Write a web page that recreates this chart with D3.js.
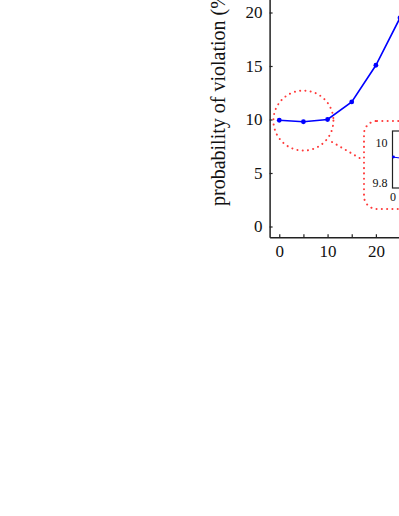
<!DOCTYPE html>
<html>
<head>
<meta charset="utf-8">
<script src="https://cdn.jsdelivr.net/npm/d3@7"></script>
<style>
  html, body { margin: 0; padding: 0; background: #fff; overflow: hidden; }
  svg { display: block; }
  text { font-family: "Liberation Serif", "Times New Roman", serif; fill: #111; }
</style>
</head>
<body>
<svg id="chart" width="800" height="516"></svg>
<script>
// ---- data ----
const xValues = [0, 5, 10, 15, 20, 25];
const violationProb = [9.93, 9.79, 10.0, 11.64, 15.07, 19.5];
const yTicks = [0, 5, 10, 15, 20];
const xTicks = [0, 5, 10, 15, 20];
const insetYTicks = [9.8, 10];
const insetXTicks = [0];
const yLabel = "probability of violation (%)";

const svg = d3.select("#chart");
const axisColor = "#222";
const red = "#ff3b3b";

// ---- main scales ----
const x = d3.scaleLinear().domain([-2, 40]).range([269.6, 472.5]);
const y = d3.scaleLinear().domain([-1, 25]).range([237.2, -41]);

// y axis
const gy = svg.append("g").attr("transform", `translate(${x(-2)},0)`)
  .call(d3.axisLeft(y).tickValues(yTicks).tickSizeInner(-3).tickSizeOuter(0).tickPadding(7));
// x axis
const gx = svg.append("g").attr("transform", `translate(0,${y(-1)})`)
  .call(d3.axisBottom(x).tickValues(xTicks).tickFormat(d => d % 10 === 0 ? d : "")
    .tickSizeInner(-3).tickSizeOuter(0).tickPadding(8));
[gx, gy].forEach(g => {
  g.select(".domain").attr("stroke", axisColor).attr("stroke-width", 1.5);
  g.selectAll(".tick line").attr("stroke", axisColor).attr("stroke-width", 1.2);
  g.selectAll(".tick text").style("font-family", "'Liberation Serif', serif").style("font-size", "17px").attr("fill", "#111");
});

// y label
svg.append("text")
  .attr("transform", "translate(225,206) rotate(-90)")
  .attr("text-anchor", "start")
  .style("font-size", "20px")
  .text(yLabel);

// main line
const pts = xValues.map((d, i) => [d, violationProb[i]]);
const line = d3.line().x(d => x(d[0])).y(d => y(d[1]));
svg.append("path").datum(pts).attr("d", line)
  .attr("fill", "none").attr("stroke", "#0000ff").attr("stroke-width", 1.6);
svg.selectAll(".pt").data(pts).enter().append("circle")
  .attr("cx", d => x(d[0])).attr("cy", d => y(d[1])).attr("r", 2.4).attr("fill", "#0000ff");

// ---- zoom highlight ----
const dotStyle = sel => sel.attr("fill", "none").attr("stroke", red).attr("stroke-width", 2)
  .attr("stroke-linecap", "round").attr("stroke-dasharray", "0.1,5.2");
const cx0 = x(5), cy0 = y(9.9);
dotStyle(svg.append("circle").attr("cx", cx0).attr("cy", cy0).attr("r", 30));
dotStyle(svg.append("line").attr("x1", 332).attr("y1", 142).attr("x2", 363).attr("y2", 160));
dotStyle(svg.append("rect").attr("x", 364).attr("y", 121).attr("width", 160).attr("height", 88)
  .attr("rx", 13).attr("ry", 13));

// ---- inset ----
const ix = d3.scaleLinear().domain([0, 5]).range([392.5, 600]);
const iy = d3.scaleLinear().domain([9.775, 10.06]).range([188, 131]);
const ig = svg.append("g");
ig.append("rect").attr("x", ix(0)).attr("y", iy(10.06)).attr("width", 130).attr("height", iy(9.775) - iy(10.06))
  .attr("fill", "#fff").attr("stroke", axisColor).attr("stroke-width", 1.2);
const iya = ig.append("g").attr("transform", `translate(${ix(0)},0)`)
  .call(d3.axisLeft(iy).tickValues(insetYTicks).tickFormat(d => d === 10 ? "10" : "9.8").tickSize(0).tickPadding(5));
const ixa = ig.append("g").attr("transform", `translate(0,${iy(9.775)})`)
  .call(d3.axisBottom(ix).tickValues(insetXTicks).tickFormat(d3.format("d")).tickSize(0).tickPadding(4));
[iya, ixa].forEach(g => {
  g.select(".domain").remove();
  g.selectAll(".tick text").style("font-family", "'Liberation Serif', serif").style("font-size", "12px").attr("fill", "#111");
});
ig.append("path").datum(pts).attr("d", d3.line().x(d => ix(d[0])).y(d => iy(d[1])))
  .attr("fill", "none").attr("stroke", "#0000ff").attr("stroke-width", 1);
ig.selectAll(".ipt").data(pts.slice(0, 1)).enter().append("circle")
  .attr("cx", d => ix(d[0]) + 1).attr("cy", d => iy(d[1])).attr("r", 1.4).attr("fill", "#0000ff");
</script>
</body>
</html>
